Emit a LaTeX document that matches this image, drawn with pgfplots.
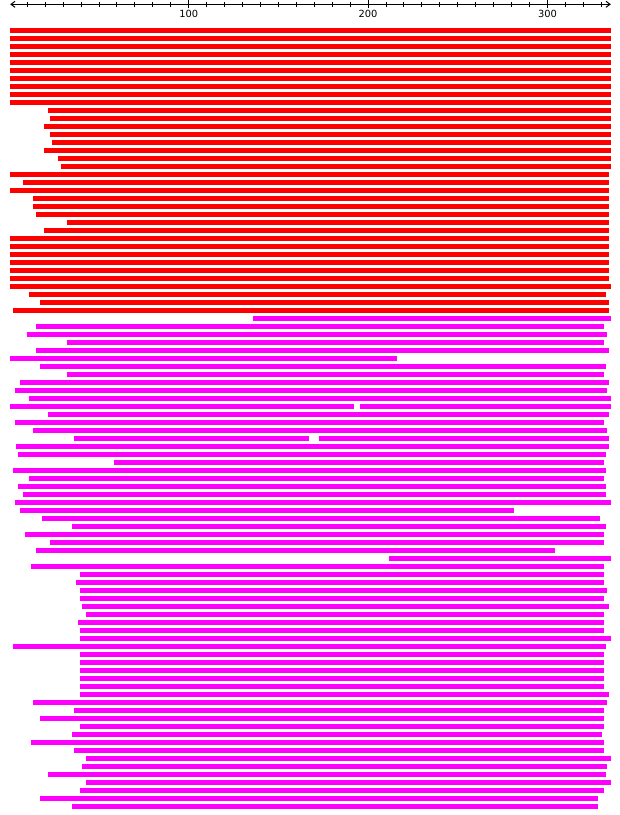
\documentclass[border=0pt]{standalone}
\usepackage{fontspec}
\setmainfont{DejaVu Sans}
\usepackage{pgfplots}
\pgfplotsset{compat=1.18}
\usetikzlibrary{arrows.meta}
\definecolor{barred}{RGB}{255,0,0}
\definecolor{barmag}{RGB}{255,0,255}
\begin{document}
\begin{tikzpicture}
\useasboundingbox (-7.65pt,3.225pt) rectangle (457.35pt,-608.025pt);
\begin{axis}[
  at={(0pt,0pt)}, anchor=north west,
  x=1.3455pt, y=6pt,
  xmin=0.5, xmax=335.3, ymin=-99, ymax=2.275,
  axis x line=top, axis y line=none,
  x axis line style={line width=0.75pt, {Straight Barb[length=3pt,width=4.5pt]}-{Straight Barb[length=3pt,width=4.5pt]}},
  xtick={100,200,300}, minor xtick={10,20,...,330},
  tick align=center, major tick length=6.2pt, minor tick length=3.5pt,
  every tick/.append style={black, line width=0.75pt},
  xticklabel style={anchor=center, yshift=-10.5pt, font=\fontsize{7.4}{8}\selectfont},
  /pgf/number format/assume math mode=true,
  unbounded coords=jump, clip=false,
]
% red rows 1-36
\addplot[barred, line width=3.75pt] coordinates {
(0.66,-1) (335.3,-1) (nan,nan)
(0.66,-2) (335.3,-2) (nan,nan)
(0.66,-3) (335.3,-3) (nan,nan)
(0.66,-4) (335.3,-4) (nan,nan)
(0.66,-5) (335.3,-5) (nan,nan)
(0.66,-6) (335.3,-6) (nan,nan)
(0.66,-7) (335.3,-7) (nan,nan)
(0.66,-8) (335.3,-8) (nan,nan)
(0.66,-9) (335.3,-9) (nan,nan)
(0.66,-10) (335.3,-10) (nan,nan)
(21.8,-11) (335.3,-11) (nan,nan)
(22.9,-12) (335.3,-12) (nan,nan)
(19.6,-13) (335.3,-13) (nan,nan)
(22.9,-14) (335.3,-14) (nan,nan)
(23.6,-15) (335.3,-15) (nan,nan)
(19.6,-16) (335.3,-16) (nan,nan)
(26.9,-17) (335.3,-17) (nan,nan)
(28.6,-18) (335.3,-18) (nan,nan)
(0.66,-19) (334.2,-19) (nan,nan)
(7.9,-20) (334.2,-20) (nan,nan)
(0.66,-21) (334.2,-21) (nan,nan)
(13.0,-22) (334.2,-22) (nan,nan)
(13.0,-23) (334.2,-23) (nan,nan)
(14.8,-24) (334.2,-24) (nan,nan)
(31.9,-25) (334.2,-25) (nan,nan)
(19.6,-26) (334.2,-26) (nan,nan)
(0.66,-27) (334.2,-27) (nan,nan)
(0.66,-28) (334.2,-28) (nan,nan)
(0.66,-29) (334.2,-29) (nan,nan)
(0.66,-30) (334.2,-30) (nan,nan)
(0.66,-31) (334.2,-31) (nan,nan)
(0.66,-32) (334.2,-32) (nan,nan)
(0.66,-33) (335.3,-33) (nan,nan)
(10.8,-34) (332.6,-34) (nan,nan)
(17.0,-35) (334.2,-35) (nan,nan)
(1.8,-36) (334.2,-36)
};
% magenta rows 37-98
\addplot[barmag, line width=3.75pt] coordinates {
(136.1,-37) (335.3,-37) (nan,nan)
(14.8,-38) (331.5,-38) (nan,nan)
(9.7,-39) (333.1,-39) (nan,nan)
(32.4,-40) (331.5,-40) (nan,nan)
(14.8,-41) (334.2,-41) (nan,nan)
(0.66,-42) (216.2,-42) (nan,nan)
(17.0,-43) (332.6,-43) (nan,nan)
(32.4,-44) (331.5,-44) (nan,nan)
(5.7,-45) (334.2,-45) (nan,nan)
(2.9,-46) (333.1,-46) (nan,nan)
(10.8,-47) (335.3,-47) (nan,nan)
(0.66,-48) (192.2,-48) (nan,nan)
(195.6,-48) (335.3,-48) (nan,nan)
(21.8,-49) (334.2,-49) (nan,nan)
(2.9,-50) (331.5,-50) (nan,nan)
(13.4,-51) (333.1,-51) (nan,nan)
(35.9,-52) (167.1,-52) (nan,nan)
(172.9,-52) (334.2,-52) (nan,nan)
(3.5,-53) (334.2,-53) (nan,nan)
(4.6,-54) (332.6,-54) (nan,nan)
(58.6,-55) (331.5,-55) (nan,nan)
(1.8,-56) (332.6,-56) (nan,nan)
(10.8,-57) (331.5,-57) (nan,nan)
(4.6,-58) (332.6,-58) (nan,nan)
(7.9,-59) (332.6,-59) (nan,nan)
(2.9,-60) (335.3,-60) (nan,nan)
(5.7,-61) (281.3,-61) (nan,nan)
(18.5,-62) (329.1,-62) (nan,nan)
(34.8,-63) (332.6,-63) (nan,nan)
(8.6,-64) (331.5,-64) (nan,nan)
(22.9,-65) (331.5,-65) (nan,nan)
(14.8,-66) (304.2,-66) (nan,nan)
(211.9,-67) (335.3,-67) (nan,nan)
(11.9,-68) (331.5,-68) (nan,nan)
(39.6,-69) (331.5,-69) (nan,nan)
(37.0,-70) (331.5,-70) (nan,nan)
(39.6,-71) (333.1,-71) (nan,nan)
(39.6,-72) (331.5,-72) (nan,nan)
(40.7,-73) (334.2,-73) (nan,nan)
(42.5,-74) (331.5,-74) (nan,nan)
(38.5,-75) (331.5,-75) (nan,nan)
(39.6,-76) (331.5,-76) (nan,nan)
(39.6,-77) (335.3,-77) (nan,nan)
(1.8,-78) (332.6,-78) (nan,nan)
(39.6,-79) (331.5,-79) (nan,nan)
(39.6,-80) (331.5,-80) (nan,nan)
(39.6,-81) (331.5,-81) (nan,nan)
(39.6,-82) (331.5,-82) (nan,nan)
(39.6,-83) (331.5,-83) (nan,nan)
(39.6,-84) (334.2,-84) (nan,nan)
(13.4,-85) (333.1,-85) (nan,nan)
(35.9,-86) (331.5,-86) (nan,nan)
(17.0,-87) (331.5,-87) (nan,nan)
(39.6,-88) (331.5,-88) (nan,nan)
(34.8,-89) (330.2,-89) (nan,nan)
(11.9,-90) (331.5,-90) (nan,nan)
(35.9,-91) (331.5,-91) (nan,nan)
(42.5,-92) (335.3,-92) (nan,nan)
(40.7,-93) (333.1,-93) (nan,nan)
(21.8,-94) (332.6,-94) (nan,nan)
(42.5,-95) (335.3,-95) (nan,nan)
(39.6,-96) (331.5,-96) (nan,nan)
(17.0,-97) (328.0,-97) (nan,nan)
(34.8,-98) (328.0,-98)
};
\end{axis}
\end{tikzpicture}
\end{document}
